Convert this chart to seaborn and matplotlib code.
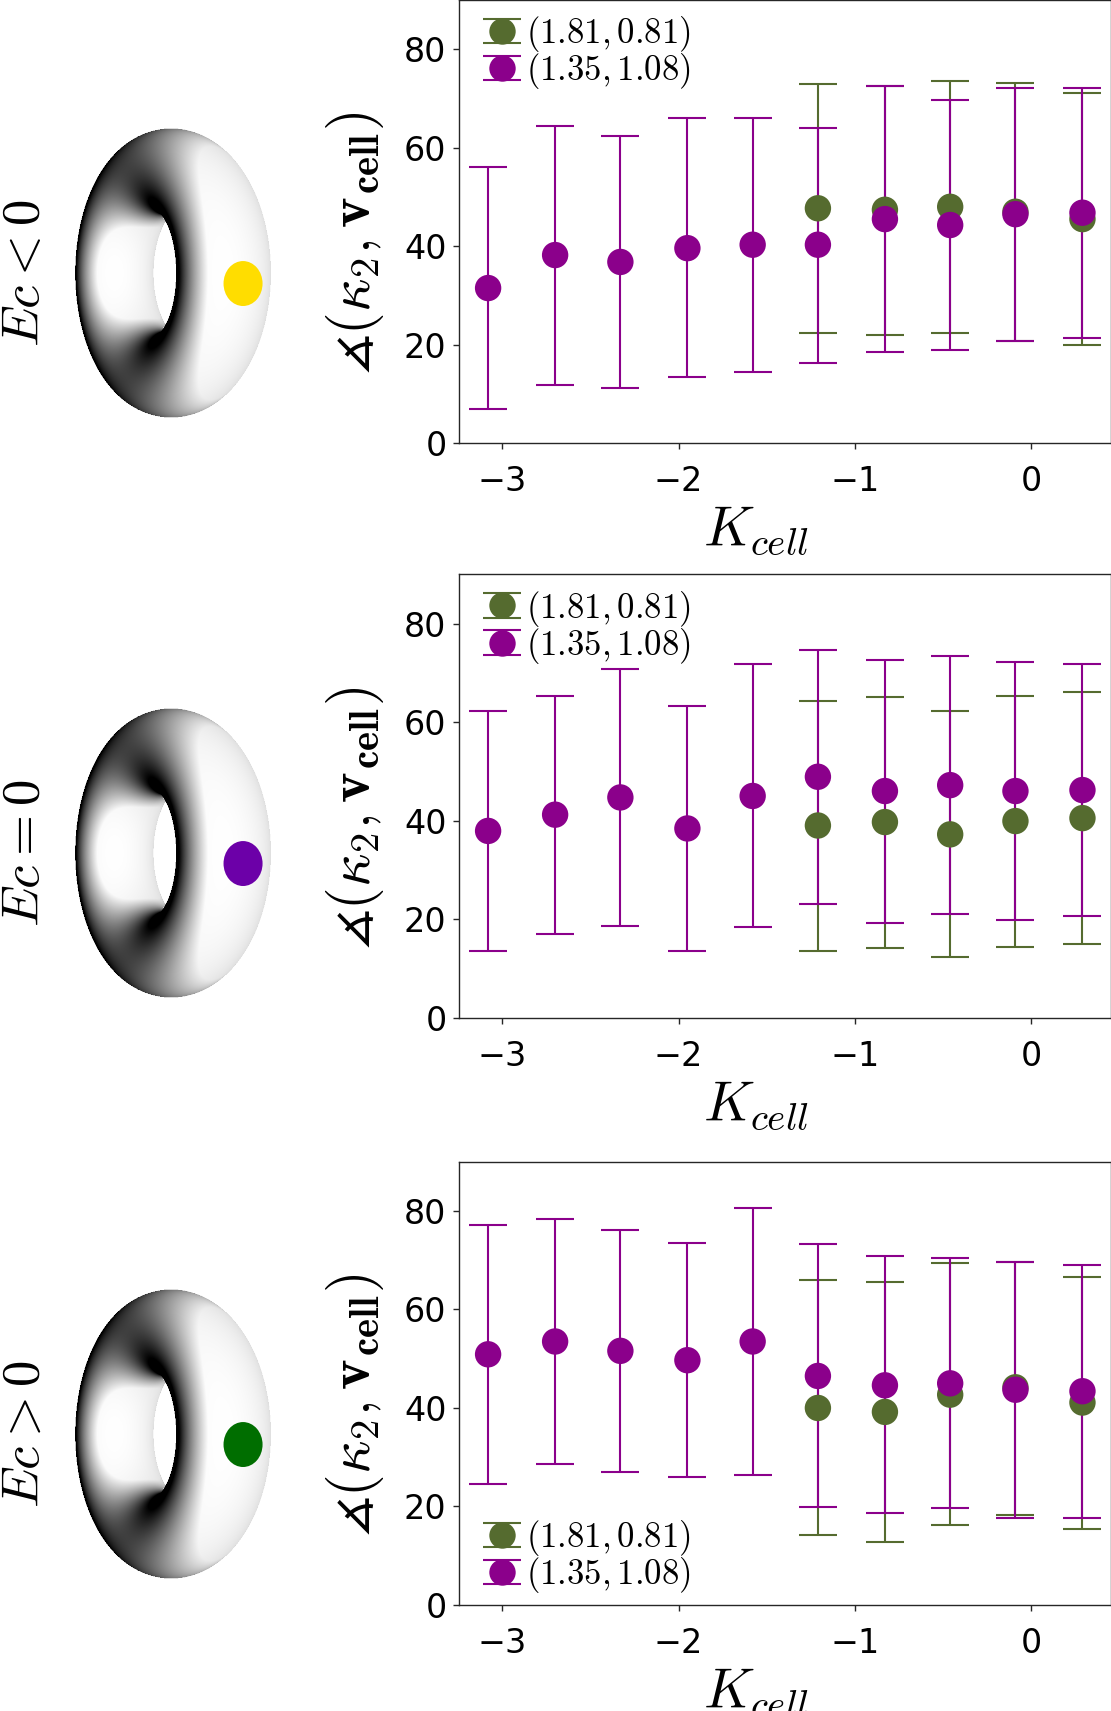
import io
import numpy as np
import pandas as pd
import matplotlib
matplotlib.use("Agg")
import matplotlib.pyplot as plt
import seaborn as sns
from matplotlib.patches import Ellipse
from matplotlib.container import ErrorbarContainer
from matplotlib.lines import Line2D
from matplotlib.collections import LineCollection
from matplotlib.legend_handler import HandlerErrorbar
from matplotlib.font_manager import FontProperties

# ---------------- data ----------------
K_purple = [-3.08, -2.70, -2.33, -1.95, -1.58, -1.21, -0.83, -0.46, -0.09, 0.29]
K_green = [-1.21, -0.83, -0.46, -0.09, 0.29]
series_labels = [r"$(1.81, 0.81)$", r"$(1.35, 1.08)$"]
panel_titles = [r"$Ec < 0$", r"$Ec = 0$", r"$Ec > 0$"]
xticks = [-3, -2, -1, 0]
yticks = [0, 20, 40, 60, 80]

# panel 1 (Ec < 0)
p1_purple_mean = [31.5, 38.2, 36.8, 39.6, 40.3, 40.3, 45.5, 44.3, 46.5, 46.8]
p1_purple_lo = [6.9, 11.8, 11.2, 13.4, 14.5, 16.3, 18.5, 18.9, 20.7, 21.4]
p1_purple_hi = [56.1, 64.5, 62.4, 66.0, 66.1, 64.0, 72.5, 69.7, 72.2, 72.2]
p1_green_mean = [47.7, 47.4, 48.0, 47.0, 45.5]
p1_green_lo = [22.3, 21.9, 22.3, 20.8, 19.9]
p1_green_hi = [73.0, 72.5, 73.6, 73.1, 71.2]

# panel 2 (Ec = 0)
p2_purple_mean = [37.9, 41.2, 44.7, 38.4, 45.0, 48.9, 46.0, 47.2, 46.0, 46.2]
p2_purple_lo = [13.6, 17.0, 18.6, 13.6, 18.3, 23.1, 19.2, 21.1, 19.9, 20.7]
p2_purple_hi = [62.2, 65.3, 70.8, 63.2, 71.7, 74.7, 72.7, 73.5, 72.2, 71.7]
p2_green_mean = [39.0, 39.7, 37.2, 39.9, 40.5]
p2_green_lo = [13.6, 14.2, 12.3, 14.3, 14.9]
p2_green_hi = [64.3, 65.1, 62.2, 65.4, 66.2]

# panel 3 (Ec > 0)
p3_purple_mean = [50.9, 53.5, 51.6, 49.7, 53.5, 46.5, 44.6, 45.0, 43.7, 43.4]
p3_purple_lo = [24.6, 28.6, 27.0, 25.9, 26.3, 19.9, 18.6, 19.6, 17.7, 17.6]
p3_purple_hi = [77.2, 78.4, 76.1, 73.5, 80.6, 73.3, 70.9, 70.4, 69.6, 69.0]
p3_green_mean = [40.0, 39.2, 42.7, 44.2, 41.1]
p3_green_lo = [14.1, 12.8, 16.3, 18.3, 15.4]
p3_green_hi = [65.9, 65.6, 69.4, 69.7, 66.5]

panels = [
    (p1_green_mean, p1_green_lo, p1_green_hi, p1_purple_mean, p1_purple_lo, p1_purple_hi),
    (p2_green_mean, p2_green_lo, p2_green_hi, p2_purple_mean, p2_purple_lo, p2_purple_hi),
    (p3_green_mean, p3_green_lo, p3_green_hi, p3_purple_mean, p3_purple_lo, p3_purple_hi),
]
dot_colors = ["#FFDD00", "#6C00A8", "#006E00"]

# ---------------- style ----------------
GREEN = "#556B2F"
PURPLE = "#8B008B"
MS = 19.0
CAP = 14.0
ELW = 1.5

sns.set_style("ticks")
plt.rcParams.update({
    "font.family": ["DejaVu Sans"],
    "mathtext.fontset": "cm",
    "axes.edgecolor": "0.15",
    "axes.linewidth": 1.0,
    "xtick.color": "0.15",
    "ytick.color": "0.15",
    "xtick.labelcolor": "black",
    "ytick.labelcolor": "black",
    "text.color": "black",
    "axes.labelcolor": "black",
    "xtick.major.size": 4.0,
    "ytick.major.size": 4.0,
    "xtick.major.width": 1.0,
    "ytick.major.width": 1.0,
})

FIG_W, FIG_H = 1111, 1711
fig = plt.figure(figsize=(FIG_W / 100, FIG_H / 100), dpi=100)


def safe_math(s, fallback):
    from matplotlib.mathtext import math_to_image
    try:
        math_to_image(s, io.BytesIO(), prop=FontProperties(size=12), format="png")
        return s
    except Exception:
        return fallback


ylabel = safe_math(r"$\measuredangle(\boldsymbol{\kappa_2}, \mathbf{v}_{\mathbf{cell}})$",
                   r"$\measuredangle(\mathbf{\kappa_2}, \mathbf{v}_{\mathbf{cell}})$")


def eb_handle(color, label):
    dl = Line2D([], [], ls="none", marker="o", ms=MS, color=color, mec=color, mew=0)
    cap = Line2D([], [], ls="none", marker="_", ms=2 * CAP, mew=ELW, color=color)
    bl = LineCollection([], colors=[color], linewidths=ELW)
    return ErrorbarContainer((dl, (cap, cap), (bl,)), has_xerr=False, has_yerr=True, label=label)


# ---------------- torus rendering (perspective ray marching) ----------------
R_MAJ, R_MIN = 1.0, 0.428
ALPHA = np.deg2rad(-57.4)
CAM_D = 8.9
PX_PER_UNIT = 100.35
X_SHIFT = 0.092  # horizontal centre of the outline in render units
L_MAIN = np.array([0.55, 0.0, 0.84])
L_MAIN = L_MAIN / np.linalg.norm(L_MAIN)


def render_torus(u0, u1, w0, w1, nx, ny):
    u = np.linspace(u0, u1, nx)
    w = np.linspace(w1, w0, ny)
    U, W = np.meshgrid(u, w)
    sa, ca = np.sin(ALPHA), np.cos(ALPHA)
    L = np.sqrt(U ** 2 + W ** 2 + CAM_D ** 2)
    dx, dy, dz = U / L, W / L, -CAM_D / L
    t = np.full_like(U, CAM_D - 1.8)
    d = np.ones_like(U)
    for _ in range(200):
        px, py, pz = t * dx, t * dy, CAM_D + t * dz
        lx = px * ca - pz * sa
        lz = px * sa + pz * ca
        q = np.sqrt(lx ** 2 + py ** 2) - R_MAJ
        d = np.sqrt(q ** 2 + lz ** 2) - R_MIN
        t = np.minimum(t + d, 50.0)
    hit = d < 2e-3
    px, py, pz = t * dx, t * dy, CAM_D + t * dz
    lx = px * ca - pz * sa
    lz = px * sa + pz * ca
    rho = np.sqrt(lx ** 2 + py ** 2) + 1e-12
    q = rho - R_MAJ
    nn = np.sqrt(q ** 2 + lz ** 2) + 1e-12
    nlx = q * lx / rho / nn
    nly = q * py / rho / nn
    nlz = lz / nn
    n_u = nlx * ca + nlz * sa
    n_w = nly
    n_s = -nlx * sa + nlz * ca
    vdot = np.clip(-(n_u * dx + n_w * dy + n_s * dz), 0, 1)
    ndl = n_u * L_MAIN[0] + n_w * L_MAIN[1] + n_s * L_MAIN[2]
    val = np.clip(0.28 + 1.25 * ndl, 0, 1) * (0.86 + 0.14 * vdot)
    val = np.where(hit, val, 1.0)
    return val, hit.astype(float)


TW, TH = 240, 330  # torus axes size in px
SS = 2
wu, hu = TW / PX_PER_UNIT, TH / PX_PER_UNIT
ext = [X_SHIFT - wu / 2, X_SHIFT + wu / 2, -hu / 2, hu / 2]
val, cov = render_torus(ext[0], ext[1], ext[2], ext[3], TW * SS, TH * SS)
val = val.reshape(TH, SS, TW, SS).mean(axis=(1, 3))
cov = cov.reshape(TH, SS, TW, SS).mean(axis=(1, 3))
vv = np.where(cov > 0, val, 1.0)
torus_rgba = np.dstack([vv, vv, vv, cov])

# ---------------- layout (pixel based) ----------------
AX_L, AX_W = 459 / FIG_W, 651.5 / FIG_W
ax_bottoms = [0.7410, 0.4053, 0.0620]
AX_H = 0.2590
torus_cy = [273.5, 853.5, 1434.5]
torus_cx = 172.5

for i, (gm, glo, ghi, pm, plo, phi) in enumerate(panels):
    ax = fig.add_axes([AX_L, ax_bottoms[i], AX_W, AX_H])

    # error bars
    gm_a, pm_a = np.array(gm), np.array(pm)
    ax.errorbar(K_green, gm_a, yerr=[gm_a - np.array(glo), np.array(ghi) - gm_a], fmt="none",
                ecolor=GREEN, elinewidth=ELW, capsize=CAP, capthick=ELW, zorder=2)
    ax.errorbar(K_purple, pm_a, yerr=[pm_a - np.array(plo), np.array(phi) - pm_a], fmt="none",
                ecolor=PURPLE, elinewidth=ELW, capsize=CAP, capthick=ELW, zorder=2.1)

    df = pd.DataFrame({
        "K": list(K_green) + list(K_purple),
        "angle": list(gm) + list(pm),
        "series": [series_labels[0]] * len(K_green) + [series_labels[1]] * len(K_purple),
    })
    sns.scatterplot(data=df, x="K", y="angle", hue="series",
                    palette={series_labels[0]: GREEN, series_labels[1]: PURPLE},
                    s=MS ** 2, linewidth=0, legend=False, ax=ax, zorder=3)

    ax.set_xlim(-3.245, 0.449)
    ax.set_ylim(0, 90)
    ax.set_xticks(xticks)
    ax.set_xticklabels([f"{t}".replace("-", "\u2212") for t in xticks])
    ax.set_yticks(yticks)
    ax.tick_params(axis="x", labelsize=24, pad=12)
    ax.tick_params(axis="y", labelsize=24, pad=5)
    ax.set_xlabel(r"$K_{cell}$", fontsize=40)
    ax.xaxis.set_label_coords(0.456, -0.137)
    ax.set_ylabel(ylabel, fontsize=42)
    ax.yaxis.set_label_coords(-0.112, 0.452)

    handles = [eb_handle(GREEN, series_labels[0]), eb_handle(PURPLE, series_labels[1])]
    leg_kw = dict(frameon=False, fontsize=25, labelspacing=-0.08, handletextpad=0.05,
                  handlelength=1.25, borderpad=0.0, borderaxespad=0.0,
                  handler_map={ErrorbarContainer: HandlerErrorbar(yerr_size=0.35)})
    if i < 2:
        ax.legend(handles=handles, loc="upper left", bbox_to_anchor=(0.033, 0.968), **leg_kw)
    else:
        ax.legend(handles=handles, loc="lower left", bbox_to_anchor=(0.033, 0.022), **leg_kw)

    # torus picture
    cy = torus_cy[i]
    tax = fig.add_axes([(torus_cx - TW / 2) / FIG_W, 1 - (cy + TH / 2) / FIG_H, TW / FIG_W, TH / FIG_H])
    tax.imshow(torus_rgba, extent=ext, interpolation="bilinear")
    tax.add_patch(Ellipse((X_SHIFT + 0.703, -0.10), 0.389, 0.448, color=dot_colors[i], lw=0, zorder=3))
    tax.set_xlim(ext[0], ext[1])
    tax.set_ylim(ext[2], ext[3])
    tax.axis("off")

    fig.text(24 / FIG_W, 1 - torus_cy[i] / FIG_H, panel_titles[i], rotation=90,
             ha="center", va="center", fontsize=38)

fig.savefig("out.png", dpi=100)
